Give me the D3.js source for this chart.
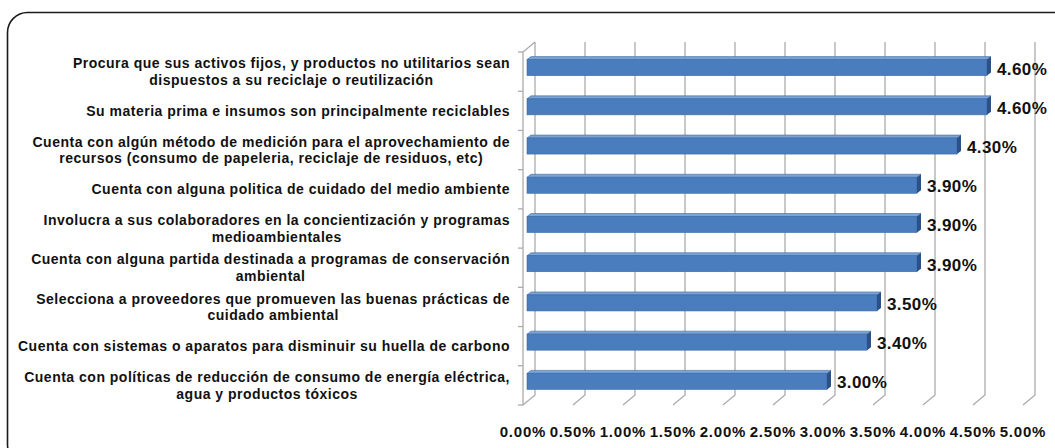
<!DOCTYPE html>
<html>
<head>
<meta charset="utf-8">
<script src="https://cdn.jsdelivr.net/npm/d3@7"></script>
<style>
  html, body { margin: 0; padding: 0; background: #fff; }
  svg { display: block; }
  text { font-family: "Liberation Sans", Arial, sans-serif; font-weight: bold; fill: #111; }
</style>
</head>
<body>
<svg id="chart" width="1055" height="448"></svg>
<script>
// Categories, top to bottom; "\n" marks a line break in the axis label
const categories = [
  "Procura que sus activos fijos, y productos no utilitarios sean\ndispuestos a su reciclaje o reutilización",
  "Su materia prima e insumos son principalmente reciclables",
  "Cuenta con algún método de medición para el aprovechamiento de\nrecursos (consumo de papeleria, reciclaje de residuos, etc)",
  "Cuenta con alguna politica de cuidado del medio ambiente",
  "Involucra a sus colaboradores en la concientización y programas\nmedioambientales",
  "Cuenta con alguna partida destinada a programas de conservación\nambiental",
  "Selecciona a proveedores que promueven las buenas prácticas de\ncuidado ambiental",
  "Cuenta con sistemas o aparatos para disminuir su huella de carbono",
  "Cuenta con políticas de reducción de consumo de energía eléctrica,\nagua y productos tóxicos"
];
// Percentages
const values = [4.6, 4.6, 4.3, 3.9, 3.9, 3.9, 3.5, 3.4, 3.0];
// Value axis ticks
const tickValues = [0, 0.5, 1, 1.5, 2, 2.5, 3, 3.5, 4, 4.5, 5];

const fmt = v => d3.format(".2f")(v) + "%";

const svg = d3.select("#chart");

// Rounded frame around the chart
svg.append("rect")
  .attr("x", 7.5).attr("y", 12.5)
  .attr("width", 1080).attr("height", 452)
  .attr("rx", 20).attr("ry", 20)
  .attr("fill", "#fff").attr("stroke", "#1a1a1a").attr("stroke-width", 1.6);

// Front plane scales; the back wall is shifted by the depth offset
const x = d3.scaleLinear().domain([0, 5]).range([523, 1023]);
const y = d3.scaleBand().domain(categories).range([52, 405]).padding(0);
const depth = { dx: 12, dy: -10 };
const yTop = y.range()[0], yBot = y.range()[1];

const grid = svg.append("g").attr("fill", "none").attr("stroke", "#ababab").attr("stroke-width", 1.3);

// Back-wall gridlines with their floor diagonals
tickValues.forEach(t => {
  const fx = x(t), bx = x(t) + depth.dx;
  grid.append("path")
    .attr("d", `M${bx},${yTop + depth.dy}V${yBot + depth.dy}L${fx},${yBot}`);
});
// Left side wall
grid.append("path")
  .attr("d", `M${x(0)},${yBot}V${yTop}L${x(0) + depth.dx},${yTop + depth.dy}`);
// Category tick marks on the left wall edge
categories.concat([null]).forEach((c, i) => {
  const yy = i < categories.length ? y(c) : yBot;
  grid.append("line")
    .attr("x1", x(0) - 5).attr("x2", x(0)).attr("y1", yy).attr("y2", yy);
});

// Bars: front face, top face and end cap
const barH = 16, barOff = { dx: 4, dy: -4 }, barDepth = { dx: 4, dy: -3 };
const bars = svg.append("g");
categories.forEach((c, i) => {
  const v = values[i];
  const cy = y(c) + y.bandwidth() / 2 + barOff.dy;
  const y0 = cy - barH / 2, y1 = cy + barH / 2;
  const x0 = x(0) + barOff.dx, x1 = x(v) + barOff.dx;
  // top face
  bars.append("path")
    .attr("d", `M${x0},${y0}L${x0 + barDepth.dx},${y0 + barDepth.dy}L${x1 + barDepth.dx},${y0 + barDepth.dy}L${x1},${y0}Z`)
    .attr("fill", "#7aa3d6").attr("stroke", "#3d6aa3").attr("stroke-width", 0.6);
  // front face
  bars.append("rect")
    .attr("x", x0).attr("y", y0).attr("width", x1 - x0).attr("height", barH)
    .attr("fill", "#4a7dbd").attr("stroke", "#3a68a2").attr("stroke-width", 0.6);
  // end cap
  bars.append("path")
    .attr("d", `M${x1},${y0}L${x1 + barDepth.dx},${y0 + barDepth.dy}L${x1 + barDepth.dx},${y1 + barDepth.dy}L${x1},${y1}Z`)
    .attr("fill", "#2b5288");
  // value label
  svg.append("text")
    .attr("x", x1 + barDepth.dx + 6)
    .attr("y", cy + 1)
    .attr("dy", "0.35em")
    .style("font-size", "17px")
    .style("letter-spacing", "0.4px")
    .text(fmt(v));
});

// Category labels: block right-aligned, lines centred within it
const labelRight = 510, lineH = 16.5;
categories.forEach(c => {
  const lines = c.split("\n");
  const g = svg.append("g");
  const texts = lines.map((ln, j) => g.append("text")
    .style("font-size", "14px")
    .style("letter-spacing", "0.5px")
    .attr("text-anchor", "middle")
    .attr("dy", "0.35em")
    .attr("y", y(c) + y.bandwidth() / 2 + (j - (lines.length - 1) / 2) * lineH)
    .text(ln));
  const w = d3.max(texts, t => t.node().getComputedTextLength());
  texts.forEach(t => t.attr("x", labelRight - w / 2));
});

// Value axis labels under the front ticks
svg.append("g").selectAll("text")
  .data(tickValues).join("text")
  .attr("x", d => x(d))
  .attr("y", 432)
  .attr("dy", "0.35em")
  .attr("text-anchor", "middle")
  .style("font-size", "15px")
  .style("letter-spacing", "0.8px")
  .text(fmt);
</script>
</body>
</html>
